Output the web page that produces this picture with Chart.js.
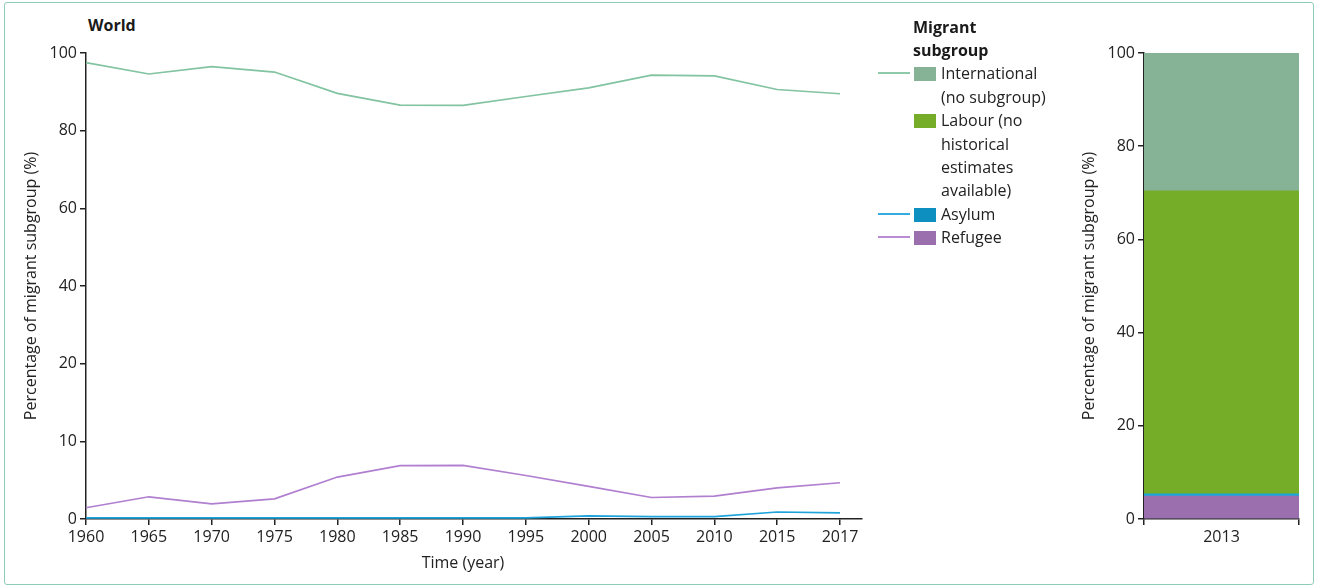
<!DOCTYPE html>
<html>
<head>
<meta charset="utf-8">
<script src="https://cdn.jsdelivr.net/npm/chart.js@4.4.1/dist/chart.umd.min.js"></script>
<style>
  html, body { margin: 0; padding: 0; background: #fff; }
  body { width: 1319px; height: 586px; position: relative; overflow: hidden;
         font-family: "Open Sans", sans-serif; color: #222; }
  .frame { position: absolute; left: 4px; top: 2px; width: 1310px; height: 583px;
           border: 1.5px solid #8fccb5; border-radius: 3px; box-sizing: border-box; }
  #lineBox { position: absolute; left: 0; top: 0; width: 880px; height: 586px; }
  #barBox { position: absolute; left: 1000px; top: 0; width: 319px; height: 586px; }
  .panel-title { position: absolute; left: 88px; top: 14px; font-weight: 700;
                 font-size: 16px; line-height: 22px; color: #1a1a1a; }
  .legend { position: absolute; left: 878px; top: 15.5px; font-size: 16px;
            line-height: 23.4px; color: #222; }
  .legend .head { margin-left: 35px; font-weight: 700; color: #1a1a1a; }
  .legend .row { position: relative; padding-left: 63px; }
  .legend .ln { position: absolute; left: 0; top: 10px; width: 32px; height: 2px; opacity: 0.9; }
  .legend .sw { position: absolute; left: 36px; top: 5px; width: 22px; height: 14px; }
</style>
</head>
<body>
<div class="frame"></div>
<div class="panel-title">World</div>
<div id="lineBox"><canvas id="lineCanvas" width="880" height="586"></canvas></div>
<div id="barBox"><canvas id="barCanvas" width="319" height="586"></canvas></div>
<div class="legend" id="legend"></div>

<script>
// ---- Time series, world (percentage of migrants by subgroup) ----
const years = ['1960', '1965', '1970', '1975', '1980', '1985', '1990',
               '1995', '2000', '2005', '2010', '2015', '2017'];
const international = [97.5, 94.6, 96.5, 95.1, 89.6, 86.6, 86.5, 88.8, 91.0, 94.3, 94.1, 90.6, 89.5];
const asylum        = [0.15, 0.15, 0.15, 0.15, 0.15, 0.15, 0.15, 0.15, 0.4, 0.3, 0.3, 0.9, 0.8];
const refugee       = [1.45, 2.86, 1.96, 2.6, 5.4, 6.86, 6.9, 5.6, 4.2, 2.77, 2.95, 4.0, 4.67];
// y ticks of the time-series panel; each interval gets the same height
const yTicks = [0, 10, 20, 40, 60, 80, 100];

// ---- 2013 composition ----
const barCategory = ['2013'];
const barRefugee = [4.9];
const barAsylum = [0.5];
const barLabour = [65.0];
const barInternational = [29.6];
const barTicks = [0, 20, 40, 60, 80, 100];

const colors = {
  internationalLine: '#82c3a1', internationalFill: '#86b396',
  labourFill: '#75ad28',
  asylumLine: '#1ea4da', asylumFill: '#0d8fc0',
  refugeeLine: '#b17fd0', refugeeFill: '#9b6fae'
};

Chart.defaults.font.family = '"Open Sans", sans-serif';
Chart.defaults.font.size = 16;
Chart.defaults.color = '#222';

// Piecewise scale: equal spacing between consecutive entries of yTicks
const Linear = Chart.LinearScale || Chart.registry.getScale('linear');
class SegmentScale extends Linear {
  toUnit(v) {
    const t = yTicks;
    if (v <= t[0]) return (v - t[0]) / (t[1] - t[0]);
    for (let i = 1; i < t.length; i++) {
      if (v <= t[i]) return (i - 1) + (v - t[i - 1]) / (t[i] - t[i - 1]);
    }
    const n = t.length - 1;
    return n + (v - t[n]) / (t[n] - t[n - 1]);
  }
  buildTicks() { return yTicks.map(v => ({ value: v })); }
  getPixelForValue(value) {
    if (value === null || value === undefined || isNaN(value)) return NaN;
    return this.getPixelForDecimal(this.toUnit(value) / (yTicks.length - 1));
  }
  getValueForPixel(pixel) {
    const u = this.getDecimalForPixel(pixel) * (yTicks.length - 1);
    const i = Math.max(0, Math.min(yTicks.length - 2, Math.floor(u)));
    return yTicks[i] + (u - i) * (yTicks[i + 1] - yTicks[i]);
  }
}
SegmentScale.id = 'segment';
SegmentScale.defaults = Linear.defaults;
Chart.register(SegmentScale);

const axisColor = '#222';
const gridStyle = { drawOnChartArea: false, drawTicks: true, tickLength: 6,
                    color: axisColor, lineWidth: 1.5 };
const borderStyle = { display: true, color: axisColor, width: 1.5 };
const tickStyle = { color: '#222', padding: 3, font: { size: 16 } };

const toPoints = arr => arr.map((v, i) => ({ x: i, y: v }));
const lineSet = (label, arr, color) => ({
  label, data: toPoints(arr), borderColor: color, backgroundColor: color,
  borderWidth: 1.7, pointRadius: 0, tension: 0, clip: false
});

// x-axis title centred under the span of the years
const timeTitle = {
  id: 'timeTitle',
  afterDraw(chart) {
    const xs = chart.scales.x;
    const ctx = chart.ctx;
    ctx.save();
    ctx.font = '16px "Open Sans", sans-serif';
    ctx.fillStyle = '#222';
    ctx.textAlign = 'center';
    ctx.textBaseline = 'middle';
    ctx.fillText('Time (year)', xs.getPixelForValue((years.length - 1) / 2), 563);
    ctx.restore();
  }
};

new Chart(document.getElementById('lineCanvas'), {
  type: 'line',
  data: {
    datasets: [
      lineSet('International', international, colors.internationalLine),
      lineSet('Refugee', refugee, colors.refugeeLine),
      lineSet('Asylum', asylum, colors.asylumLine)
    ]
  },
  plugins: [timeTitle],
  options: {
    responsive: false, animation: false, events: [], devicePixelRatio: 1,
    layout: { padding: { top: 53, right: 18, bottom: 0, left: 0 } },
    plugins: { legend: { display: false }, tooltip: { enabled: false } },
    scales: {
      x: {
        type: 'linear', min: 0, max: 12.35,
        afterBuildTicks: s => { s.ticks = years.map((_, i) => ({ value: i })); },
        afterFit: s => { s.height = 67; },
        ticks: Object.assign({}, tickStyle, { autoSkip: false, maxRotation: 0,
                 callback: v => years[v] }),
        grid: gridStyle, border: borderStyle
      },
      y: {
        type: 'segment', min: 0, max: 100,
        afterFit: s => { s.width = 86; },
        ticks: Object.assign({}, tickStyle, { callback: v => String(v) }),
        grid: gridStyle, border: borderStyle,
        title: { display: true, text: 'Percentage of migrant subgroup (%)', color: '#222',
                 font: { size: 16 }, padding: { top: 22, bottom: 0 } }
      }
    }
  }
});

const barSet = (label, arr, color) => ({
  label, data: arr, backgroundColor: color, borderWidth: 0,
  barPercentage: 1, categoryPercentage: 1
});

new Chart(document.getElementById('barCanvas'), {
  type: 'bar',
  data: {
    labels: barCategory,
    datasets: [
      barSet('Refugee', barRefugee, colors.refugeeFill),
      barSet('Asylum', barAsylum, colors.asylumLine),
      barSet('Labour', barLabour, colors.labourFill),
      barSet('International', barInternational, colors.internationalFill)
    ]
  },
  options: {
    responsive: false, animation: false, events: [], devicePixelRatio: 1,
    layout: { padding: { top: 53, right: 20, bottom: 0, left: 0 } },
    plugins: { legend: { display: false }, tooltip: { enabled: false } },
    scales: {
      x: {
        stacked: true,
        afterFit: s => { s.height = 67; },
        ticks: tickStyle,
        grid: Object.assign({}, gridStyle, { offset: true }), border: borderStyle
      },
      y: {
        stacked: true, min: 0, max: 100,
        afterBuildTicks: s => { s.ticks = barTicks.map(v => ({ value: v })); },
        afterFit: s => { s.width = 144; },
        ticks: tickStyle,
        grid: gridStyle, border: borderStyle,
        title: { display: true, text: 'Percentage of migrant subgroup (%)', color: '#222',
                 font: { size: 16 }, padding: { top: 80, bottom: 0 } }
      }
    }
  }
});

// Legend: line sample for the time series, swatch for the 2013 bar
const legendRows = [
  { lines: ['International', '(no subgroup)'], line: colors.internationalLine, fill: colors.internationalFill },
  { lines: ['Labour (no', 'historical', 'estimates', 'available)'], line: null, fill: colors.labourFill },
  { lines: ['Asylum'], line: colors.asylumLine, fill: colors.asylumFill },
  { lines: ['Refugee'], line: colors.refugeeLine, fill: colors.refugeeFill }
];
const legend = document.getElementById('legend');
const head = document.createElement('div');
head.className = 'head';
head.innerHTML = 'Migrant<br>subgroup';
legend.appendChild(head);
legendRows.forEach(r => {
  const row = document.createElement('div');
  row.className = 'row';
  if (r.line) {
    const ln = document.createElement('span');
    ln.className = 'ln'; ln.style.background = r.line; row.appendChild(ln);
  }
  const sw = document.createElement('span');
  sw.className = 'sw'; sw.style.background = r.fill; row.appendChild(sw);
  r.lines.forEach((t, i) => {
    if (i) row.appendChild(document.createElement('br'));
    row.appendChild(document.createTextNode(t));
  });
  legend.appendChild(row);
});
</script>
</body>
</html>
